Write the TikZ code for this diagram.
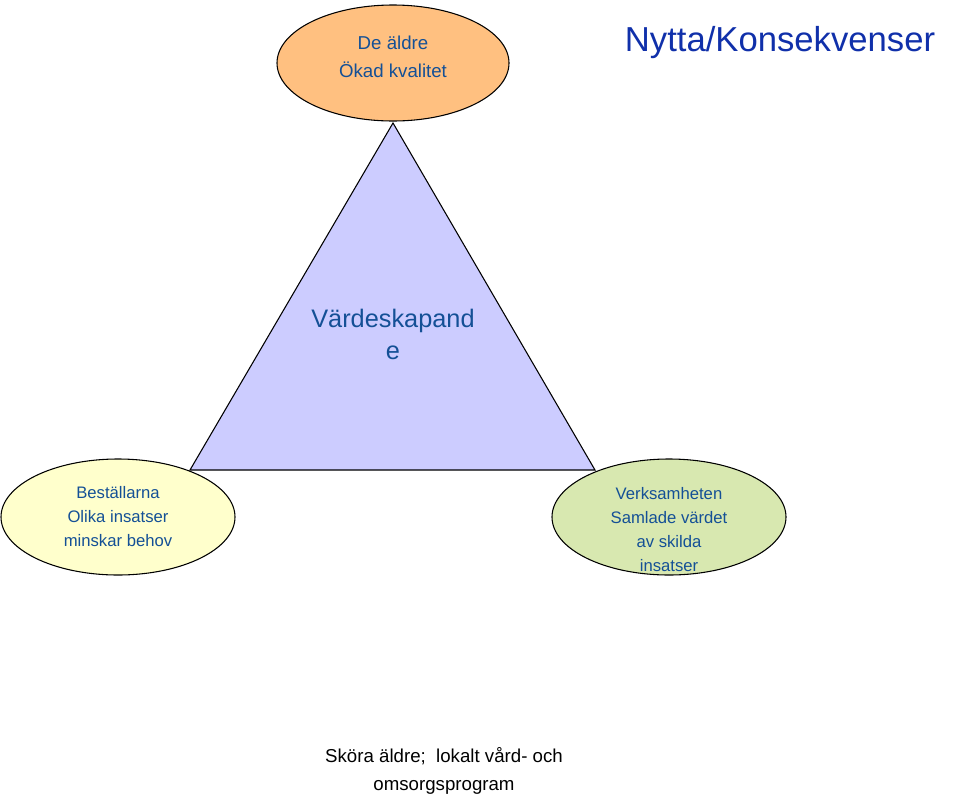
\documentclass[tikz,border=0pt]{standalone}
\usepackage{fontspec}
\setmainfont{Liberation Sans}
\definecolor{txtblue}{RGB}{20,80,150}
\definecolor{titleblue}{RGB}{16,48,170}
\definecolor{orangef}{RGB}{255,192,128}
\definecolor{triblue}{RGB}{204,204,255}
\definecolor{yellowf}{RGB}{255,255,204}
\definecolor{greenf}{RGB}{216,232,176}
\tikzset{ell/.style={draw=black,line width=0.8pt,ellipse},
lbl/.style={align=center,text=txtblue}}
\begin{document}
\begin{tikzpicture}[x=0.75pt,y=-0.75pt]
\useasboundingbox (0,0) rectangle (960,800);
\coordinate (apex) at (393,123);
\coordinate (bl) at (190,470);
\coordinate (br) at (595,470);
\draw[fill=triblue,line width=0.8pt] (apex) -- (bl) -- (br) -- cycle;
\filldraw[fill=orangef,line width=0.8pt] (393,63) ellipse [x radius=116, y radius=58];
\node[lbl,font=\fontsize{14}{21}\selectfont] (top) at (393,57) {De äldre\\Ökad kvalitet};
\node[text=titleblue,font=\fontsize{26}{30}\selectfont] (title) at (780,43) {Nytta/Konsekvenser};
\node[lbl,font=\fontsize{19}{24}\selectfont] (mid) at (393,334) {Värdeskapand\\e};
\filldraw[fill=yellowf,line width=0.8pt] (118,517) ellipse [x radius=117, y radius=58];
\node[lbl,font=\fontsize{12.5}{18}\selectfont] (left) at (118,517) {Beställarna\\Olika insatser\\minskar behov};
\filldraw[fill=greenf,line width=0.8pt] (669,517) ellipse [x radius=117, y radius=58];
\node[lbl,font=\fontsize{12.5}{18}\selectfont] (right) at (669,530) {Verksamheten\\Samlade värdet\\av skilda\\insatser};
\node[align=center,font=\fontsize{14}{21}\selectfont] (bot) at (444,771) {Sköra äldre;\ \ lokalt vård- och\\omsorgsprogram};
\end{tikzpicture}
\end{document}
